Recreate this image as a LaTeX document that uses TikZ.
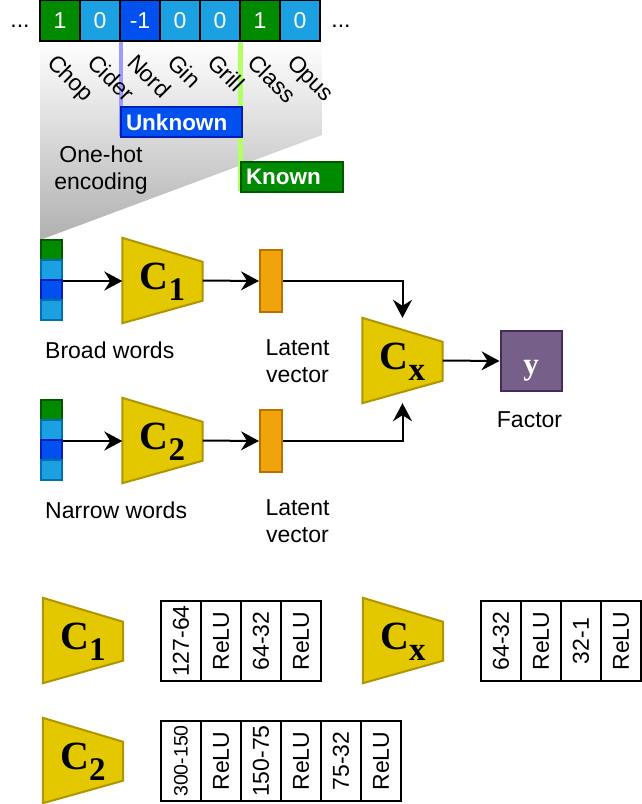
\documentclass[tikz,border=0pt]{standalone}
\usepackage{fontspec}
\setmainfont{Liberation Sans}
\newfontfamily\tnr{Liberation Serif}
\usetikzlibrary{arrows.meta,backgrounds,calc}
\definecolor{gfill}{HTML}{008A00}
\definecolor{gline}{HTML}{005700}
\definecolor{lbfill}{HTML}{1BA1E2}
\definecolor{lbline}{HTML}{006EAF}
\definecolor{bfill}{HTML}{0050EF}
\definecolor{bline}{HTML}{001DBC}
\definecolor{yfill}{HTML}{E3C800}
\definecolor{yline}{HTML}{B09500}
\definecolor{ofill}{HTML}{F0A30A}
\definecolor{oline}{HTML}{BD7000}
\definecolor{pfill}{HTML}{76608A}
\definecolor{pline}{HTML}{432D57}
\definecolor{lavline}{HTML}{9C9CFF}
\definecolor{lgline}{HTML}{B3FF66}
\definecolor{shadegray}{HTML}{B0B0B0}
\newcommand\Clab[1]{{\tnr\bfseries\fontsize{40}{40}\selectfont C\raisebox{-11pt}{\fontsize{33}{33}\selectfont #1}}}
\newcommand\trapz[3]{%
  \node[trapbox] (#1) at (#2) {#3};
  \begin{scope}[on background layer]
    \draw[trapline] (#1.north west) -- ([yshift=-24pt]#1.north east)
      -- ([yshift=22.5pt]#1.south east) -- (#1.south west) -- cycle;
  \end{scope}}
\tikzset{
  every node/.style={font=\fontsize{23}{27}\selectfont, inner sep=0pt},
  topcell/.style={draw=black, line width=2.4pt, minimum width=40pt, minimum height=41pt, text=white},
  vcell/.style={line width=2pt, minimum width=21pt, minimum height=20pt},
  trapbox/.style={minimum width=80pt, minimum height=85pt, text height=30pt, text depth=13pt},
  trapline/.style={draw=yline, fill=yfill, line width=2pt, line join=miter},
  latent/.style={draw=oline, fill=ofill, line width=2pt, minimum width=22pt, minimum height=62pt},
  tcell/.style={draw=black, line width=2pt, minimum width=40pt, minimum height=80pt},
  tagbox/.style={line width=2pt, anchor=north west, minimum height=30pt, inner xsep=5pt, align=left, text=white, font=\fontsize{22.5}{27}\selectfont\bfseries},
  conn/.style={line width=2pt, -{Stealth[length=18pt,width=19pt,inset=6pt]}},
  lbl/.style={align=center}
}
\begin{document}
\begin{tikzpicture}[x=1pt,y=-1pt]
\useasboundingbox (0,0) rectangle (642,804);
% gradient funnel
\shade[top color=white, bottom color=shadegray] (40,41) -- (322,41) -- (322,135) -- (40,240) -- cycle;
% divider lines
\draw[lavline, line width=4pt] (121,41) -- (121,136);
\draw[lgline, line width=4.5pt] (240.5,41) -- (240.5,191);
% tags
\node[tagbox, draw=bline, fill=bfill, text width=111pt] (unk) at (120,106) {Unknown};
\node[tagbox, draw=gline, fill=gfill, text width=92pt] (kno) at (240,161) {Known};
% top row
\foreach \v/\c [count=\k from 0] in {1/gfill,0/lbfill,-1/bfill,0/lbfill,0/lbfill,1/gfill,0/lbfill}
  \node[topcell, fill=\c] (top\k) at ({60+40*\k},20.5) {\v};
\node[anchor=base] (dotl) at (20,27.5) {...};
\node[anchor=base] (dotr) at (341,27.5) {...};
% word labels
\foreach \w [count=\k from 0] in {Chop,Cider,Nord,Gin,Grill,Class,Opus}
  \node[rotate=-45, anchor=base west] (w\k) at ({46+40*\k},64) {\w};
\node[lbl] (onehot) at (101,170.5) {One-hot\\encoding};
% broad words vector
\node[vcell, fill=gfill, draw=gline] (va1) at (51,250) {};
\node[vcell, fill=lbfill, draw=lbline] (va2) at (51,270) {};
\node[vcell, fill=bfill, draw=bline] (va3) at (51,290) {};
\node[vcell, fill=lbfill, draw=lbline] (va4) at (51,310) {};
% narrow words vector
\node[vcell, fill=gfill, draw=gline] (vb1) at (51,410) {};
\node[vcell, fill=lbfill, draw=lbline] (vb2) at (51,430) {};
\node[vcell, fill=bfill, draw=bline] (vb3) at (51,450) {};
\node[vcell, fill=lbfill, draw=lbline] (vb4) at (51,470) {};
% encoders
\trapz{c1}{162.5,280.5}{\Clab{1}}
\trapz{c2}{162.5,440.5}{\Clab{2}}
\trapz{cx}{402.5,360.5}{\Clab{x}}
% latent vectors
\node[latent] (la) at (271,281) {};
\node[latent] (lb) at (271,441) {};
% output
\node[draw=pline, fill=pfill, line width=2pt, minimum width=61pt, minimum height=60pt, text=white, text height=28pt, text depth=2pt] (yb) at (531,361) {\tnr\bfseries\fontsize{31}{31}\selectfont y};
% connectors
\draw[conn] (va2.south east) -- (c1.west |- va2.south east);
\draw[conn] (vb2.south east) -- (c2.west |- vb2.south east);
\draw[conn] (c1.east) -- (la.west);
\draw[conn] (c2.east) -- (lb.west);
\draw[conn] (la.east) -| (cx.north);
\draw[conn] (lb.east) -| (cx.south);
\draw[conn] (cx.east) -- (yb.west);
% labels
\node[anchor=west] (bw) at (45,350) {Broad words};
\node[anchor=west] (nw) at (45,510) {Narrow words};
\node[lbl] (lva) at (297.5,361) {Latent\\vector};
\node[lbl] (lvb) at (297.5,521) {Latent\\vector};
\node (fac) at (529.5,420) {Factor};
% legend
\trapz{lc1}{83,640.5}{\Clab{1}}
\trapz{lcx}{403,640.5}{\Clab{x}}
\trapz{lc2}{83,760.5}{\Clab{2}}
\foreach \t [count=\k from 0] in {127-64,ReLU,64-32,ReLU}
  \node[tcell] (ta\k) at ({181+40*\k},641) {\rotatebox{90}{\t}};
\foreach \t [count=\k from 0] in {64-32,ReLU,32-1,ReLU}
  \node[tcell] (tx\k) at ({501+40*\k},641) {\rotatebox{90}{\t}};
\node[tcell, font=\fontsize{19.5}{23}\selectfont] (tb0) at (181,761) {\rotatebox{90}{300-150}};
\foreach \t [count=\k from 1] in {ReLU,150-75,ReLU,75-32,ReLU}
  \node[tcell] (tb\k) at ({181+40*\k},761) {\rotatebox{90}{\t}};
\end{tikzpicture}
\end{document}
